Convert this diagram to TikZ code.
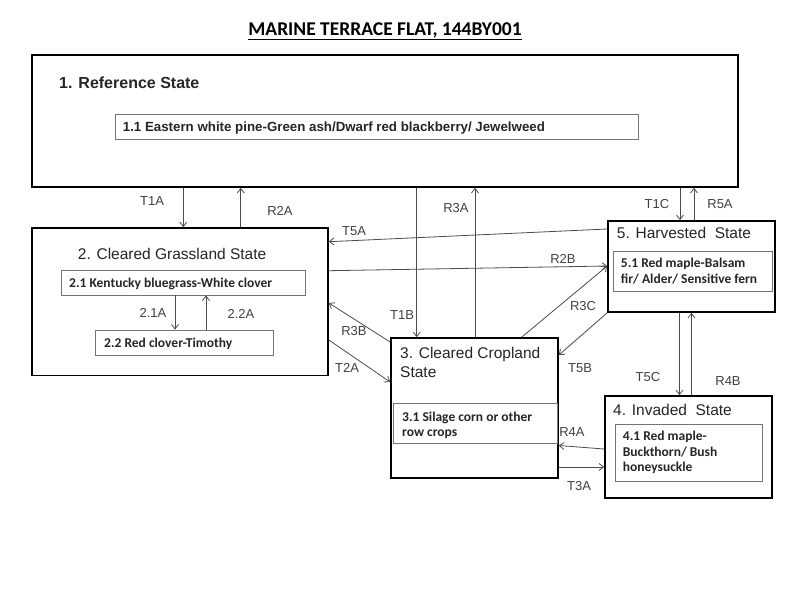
\documentclass[tikz,border=0pt]{standalone}
\usepackage{fontspec}
\setmainfont{Liberation Sans}
\newfontfamily\carlito{Carlito}
\usetikzlibrary{arrows.meta}
\begin{document}
\begin{tikzpicture}[x=1pt,y=-1pt,
  statebox/.style={draw=black, line width=1.7pt, rectangle, inner sep=0pt},
  subbox/.style={draw=black!55, line width=0.8pt, rectangle, inner sep=0pt},
  conn/.style={draw=black!70, line width=0.8pt, -{Straight Barb[length=4.5pt,width=7pt]}},
  lbl/.style={font=\fontsize{13}{15}\selectfont, text=black!75, inner sep=0pt},
  stitle/.style={font=\fontsize{15.5}{19}\selectfont, text=black!85, inner sep=0pt, anchor=base west},
  subtxt/.style={font=\carlito\bfseries\fontsize{13.5}{16}\selectfont, text=black!85, inner sep=0pt, anchor=base west}]
\useasboundingbox (0,0) rectangle (800,600);
\fill[white] (0,0) rectangle (800,600);

% title
\node[font=\carlito\bfseries\fontsize{19.5}{22}\selectfont, anchor=base, inner sep=0pt] (title) at (385,35.5) {\underline{MARINE TERRACE FLAT, 144BY001}};

% state 1
\node[statebox, minimum width=706pt, minimum height=132pt] (b1) at (385,121) {};
\node[stitle, font=\bfseries\fontsize{16}{19}\selectfont] (t1) at (59,88.5) {1. Reference State};
\node[subbox, minimum width=523pt, minimum height=25pt] (s11) at (376.5,126.5) {};
\node[font=\bfseries\fontsize{13.3}{15}\selectfont, text=black!85, anchor=base west, inner sep=0pt] (t11) at (122.7,131) {1.1 Eastern white pine-Green ash/Dwarf red blackberry/ Jewelweed};

% state 2
\node[statebox, minimum width=296pt, minimum height=147.5pt] (b2) at (180,301.75) {};
\node[stitle] (t2) at (77.7,259.5) {2. Cleared Grassland State};
\node[subbox, minimum width=244pt, minimum height=25pt] (s21) at (183,282.5) {};
\node[subtxt] (t21) at (69,287) {2.1 Kentucky bluegrass-White clover};
\node[subbox, minimum width=177.5pt, minimum height=25pt] (s22) at (184.25,342.5) {};
\node[subtxt] (t22) at (104,347) {2.2 Red clover-Timothy};

% state 3
\node[statebox, minimum width=167pt, minimum height=140pt] (b3) at (474.5,408) {};
\node[stitle] (t3a) at (400,358) {3. Cleared Cropland};
\node[stitle] (t3b) at (400,377.5) {State};
\node[subbox, minimum width=164pt, minimum height=40pt] (s31) at (475,423) {};
\node[subtxt] (t31a) at (402,421.2) {3.1 Silage corn or other};
\node[subtxt] (t31b) at (402,436.8) {row crops};

% state 5
\node[statebox, minimum width=167pt, minimum height=91pt] (b5) at (691.5,266.5) {};
\node[stitle] (t5) at (616.7,238.5) {5. Harvested\ \ State};
\node[subbox, minimum width=159pt, minimum height=40pt] (s51) at (692.5,271) {};
\node[subtxt] (t51a) at (620.7,267.8) {5.1 Red maple-Balsam};
\node[subtxt] (t51b) at (620.7,283.8) {fir/ Alder/ Sensitive fern};

% state 4
\node[statebox, minimum width=167pt, minimum height=102pt] (b4) at (688.5,447) {};
\node[stitle] (t4) at (613,415.5) {4. Invaded\ \ State};
\node[subbox, minimum width=147pt, minimum height=57pt] (s41) at (688.5,452.5) {};
\node[subtxt] (t41a) at (622.7,440.5) {4.1 Red maple-};
\node[subtxt] (t41b) at (622.7,456.2) {Buckthorn/ Bush};
\node[subtxt] (t41c) at (622.7,471.8) {honeysuckle};

% helper coordinates
\coordinate (xT1A) at (183.3,0);
\coordinate (xR2A) at (240.7,0);
\coordinate (xT1B) at (416.7,0);
\coordinate (xR3A) at (475,0);
\coordinate (xT1C) at (680,0);
\coordinate (xR5A) at (694,0);
\coordinate (xT5C) at (679.5,0);
\coordinate (xR4B) at (691.5,0);
\coordinate (xR3C) at (521.7,0);
\coordinate (x21A) at (175,0);
\coordinate (x22A) at (206,0);
\coordinate (yT5As) at (0,229);
\coordinate (yT5Ae) at (0,241.7);
\coordinate (yR2Bs) at (0,270.7);
\coordinate (yR2Be) at (0,266);
\coordinate (yT5Be) at (0,355);
\coordinate (yR4As) at (0,449);
\coordinate (yR4Ae) at (0,445.5);
\coordinate (yT3A) at (0,467);
\coordinate (yR3Bs) at (0,342);
\coordinate (yR3Be) at (0,303);
\coordinate (yT2As) at (0,340);
\coordinate (yT2Ae) at (0,382);

% connectors
\draw[conn] (b1.south -| xT1A) -- (b2.north -| xT1A);
\draw[conn] (b2.north -| xR2A) -- (b1.south -| xR2A);
\draw[conn] (b1.south -| xT1B) -- (b3.north -| xT1B);
\draw[conn] (b3.north -| xR3A) -- (b1.south -| xR3A);
\draw[conn] (b1.south -| xT1C) -- (b5.north -| xT1C);
\draw[conn] (b5.north -| xR5A) -- (b1.south -| xR5A);
\draw[conn] (b5.west |- yT5As) -- (b2.east |- yT5Ae);
\draw[conn] (b2.east |- yR2Bs) -- (b5.west |- yR2Be);
\draw[conn] (b3.north -| xR3C) -- (b5.west |- yR2Be);
\draw[conn] (b5.south west) -- (b3.east |- yT5Be);
\draw[conn] (b5.south -| xT5C) -- (b4.north -| xT5C);
\draw[conn] (b4.north -| xR4B) -- (b5.south -| xR4B);
\draw[conn] (b4.west |- yR4As) -- (b3.east |- yR4Ae);
\draw[conn] (b3.east |- yT3A) -- (b4.west |- yT3A);
\draw[conn] (b3.west |- yR3Bs) -- (b2.east |- yR3Be);
\draw[conn] (b2.east |- yT2As) -- (b3.west |- yT2Ae);
\draw[conn] (s21.south -| x21A) -- (s22.north -| x21A);
\draw[conn] (s22.north -| x22A) -- (s21.south -| x22A);

% connector labels
\node[lbl] (lT1A) at (152,201) {T1A};
\node[lbl] (lR2A) at (280,211) {R2A};
\node[lbl] (lR3A) at (456,208) {R3A};
\node[lbl] (lT1B) at (402,315) {T1B};
\node[lbl] (lT1C) at (657,204) {T1C};
\node[lbl] (lR5A) at (720,204) {R5A};
\node[lbl] (lT5A) at (354,231) {T5A};
\node[lbl] (lR2B) at (563,259) {R2B};
\node[lbl] (lR3B) at (354,331) {R3B};
\node[lbl] (lT2A) at (347,368) {T2A};
\node[lbl] (lR3C) at (583,306) {R3C};
\node[lbl] (lT5B) at (580,368) {T5B};
\node[lbl] (lT5C) at (648,377) {T5C};
\node[lbl] (lR4B) at (728,381) {R4B};
\node[lbl] (lR4A) at (572,432) {R4A};
\node[lbl] (lT3A) at (579,486) {T3A};
\node[lbl] (l21A) at (153,313) {2.1A};
\node[lbl] (l22A) at (241,314) {2.2A};
\end{tikzpicture}
\end{document}
